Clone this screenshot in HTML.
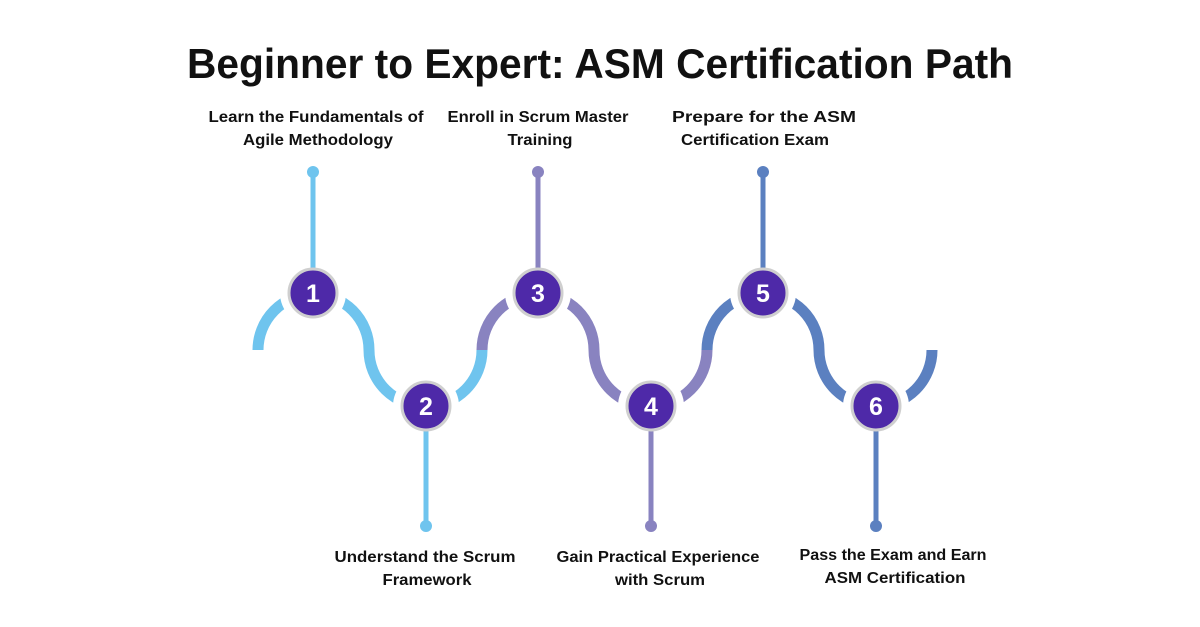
<!DOCTYPE html>
<html><head><meta charset="utf-8"><style>
html,body{margin:0;padding:0;background:#fff;}
svg{display:block;}
text{font-family:"Liberation Sans",sans-serif;font-weight:bold;fill:#111;}
</style></head><body>
<svg width="1200" height="627" viewBox="0 0 1200 627" xmlns="http://www.w3.org/2000/svg">
<text x="600" y="78" font-size="42" text-anchor="middle" textLength="826" lengthAdjust="spacingAndGlyphs">Beginner to Expert: ASM Certification Path</text>
<g font-size="15.5" text-anchor="middle">
<text x="316" y="122" textLength="215" lengthAdjust="spacingAndGlyphs">Learn the Fundamentals of</text>
<text x="318" y="145" textLength="150" lengthAdjust="spacingAndGlyphs">Agile Methodology</text>
<text x="538" y="122" textLength="181" lengthAdjust="spacingAndGlyphs">Enroll in Scrum Master</text>
<text x="540" y="145" textLength="65" lengthAdjust="spacingAndGlyphs">Training</text>
<text x="764" y="122" textLength="184" lengthAdjust="spacingAndGlyphs">Prepare for the ASM</text>
<text x="755" y="145" textLength="148" lengthAdjust="spacingAndGlyphs">Certification Exam</text>
<text x="425" y="562" textLength="181" lengthAdjust="spacingAndGlyphs">Understand the Scrum</text>
<text x="427" y="585" textLength="89" lengthAdjust="spacingAndGlyphs">Framework</text>
<text x="658" y="562" textLength="203" lengthAdjust="spacingAndGlyphs">Gain Practical Experience</text>
<text x="660" y="585" textLength="90" lengthAdjust="spacingAndGlyphs">with Scrum</text>
<text x="893" y="560" textLength="187" lengthAdjust="spacingAndGlyphs">Pass the Exam and Earn</text>
<text x="895" y="583" textLength="141" lengthAdjust="spacingAndGlyphs">ASM Certification</text>
</g>
<g fill="none" stroke-width="11">
<path d="M258 350 A56 56 0 0 1 313 294 A56 56 0 0 1 369 350 A56 56 0 0 0 426 406 A56 56 0 0 0 482 350" stroke="#6fc4ee"/>
<path d="M482 350 A56 56 0 0 1 538 294 A56 56 0 0 1 594 350 A56 56 0 0 0 651 406 A56 56 0 0 0 707 350" stroke="#8983c0"/>
<path d="M707 350 A56 56 0 0 1 763 294 A56 56 0 0 1 819 350 A56 56 0 0 0 876 406 A56 56 0 0 0 932 350" stroke="#5b80c0"/>
</g>
<g fill="#fff">
<circle cx="313" cy="293" r="33"/><circle cx="426" cy="406" r="33"/><circle cx="538" cy="293" r="33"/>
<circle cx="651" cy="406" r="33"/><circle cx="763" cy="293" r="33"/><circle cx="876" cy="406" r="33"/>
</g>
<g stroke-width="5">
<line x1="313" y1="172" x2="313" y2="293" stroke="#6fc4ee"/>
<line x1="426" y1="406" x2="426" y2="526" stroke="#6fc4ee"/>
<line x1="538" y1="172" x2="538" y2="293" stroke="#8983c0"/>
<line x1="651" y1="406" x2="651" y2="526" stroke="#8983c0"/>
<line x1="763" y1="172" x2="763" y2="293" stroke="#5b80c0"/>
<line x1="876" y1="406" x2="876" y2="526" stroke="#5b80c0"/>
</g>
<g>
<circle cx="313" cy="172" r="6" fill="#6fc4ee"/><circle cx="426" cy="526" r="6" fill="#6fc4ee"/>
<circle cx="538" cy="172" r="6" fill="#8983c0"/><circle cx="651" cy="526" r="6" fill="#8983c0"/>
<circle cx="763" cy="172" r="6" fill="#5b80c0"/><circle cx="876" cy="526" r="6" fill="#5b80c0"/>
</g>
<g fill="#4e29a8" stroke="#cfcfcf" stroke-width="3">
<circle cx="313" cy="293" r="24"/><circle cx="426" cy="406" r="24"/><circle cx="538" cy="293" r="24"/>
<circle cx="651" cy="406" r="24"/><circle cx="763" cy="293" r="24"/><circle cx="876" cy="406" r="24"/>
</g>
<g font-size="25" text-anchor="middle" style="font-weight:normal">
<text x="313" y="302" style="fill:#fff">1</text>
<text x="426" y="415" style="fill:#fff">2</text>
<text x="538" y="302" style="fill:#fff">3</text>
<text x="651" y="415" style="fill:#fff">4</text>
<text x="763" y="302" style="fill:#fff">5</text>
<text x="876" y="415" style="fill:#fff">6</text>
</g>
</svg>
</body></html>
